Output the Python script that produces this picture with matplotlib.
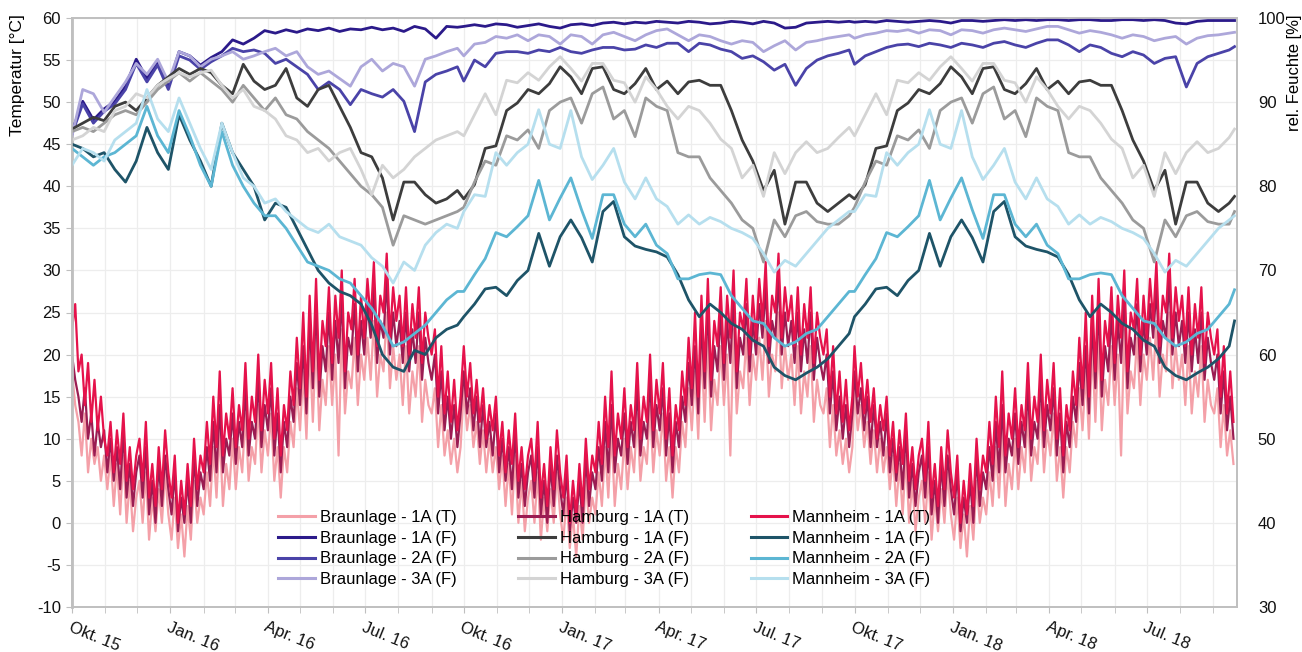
import numpy as np
import pandas as pd
import matplotlib
matplotlib.use("Agg")
import matplotlib.pyplot as plt
from matplotlib.lines import Line2D

# ---------------- data ----------------
# temperature samples every 3 days, starting 1 Oct of each year
t_days = np.concatenate([np.arange(0, 364, 3), 366 + np.arange(0, 364, 3), 731 + np.arange(0, 355, 3)])
# humidity samples every 10 days, starting 1 Oct of each year
h_days = np.concatenate([np.arange(0, 361, 10), 366 + np.arange(0, 361, 10), 731 + np.arange(0, 351, 10), [1086]])

mannheim_t_1516 = [23, 26, 18, 20, 14, 19, 12, 17, 11, 15, 10,
                   8, 12, 6, 11, 7, 13, 5, 9, 4, 8,
                   10, 5, 12, 3, 7, 2, 9, 4, 11, 6,
                   3, 8, 0, 5, 1, 7, 2, 10, 4, 8,
                   6, 12, 7, 15, 9, 18, 8, 13, 10, 16,
                   9, 14, 11, 19, 10, 15, 12, 20, 11, 17,
                   13, 19, 10, 16, 8, 14, 11, 18, 14, 22,
                   16, 25, 15, 27, 18, 29, 17, 24, 21, 28,
                   19, 27, 22, 30, 18, 25, 23, 29, 20, 27,
                   22, 29, 24, 31, 21, 27, 25, 32, 22, 28, 24,
                   27, 21, 28, 20, 26, 22, 28, 19, 25, 22,
                   20, 23, 15, 21, 13, 18, 12, 17, 11, 15]
mannheim_t_1617 = [21, 15, 19, 13, 17, 12, 16, 10, 14, 11, 15,
                   8, 12, 6, 11, 7, 13, 5, 9, 4, 8,
                   10, 5, 12, 3, 7, 2, 9, 4, 11, 6,
                   3, 8, 0, 5, 1, 7, 2, 10, 4, 8,
                   6, 12, 7, 15, 9, 18, 8, 13, 10, 16,
                   9, 14, 11, 19, 10, 15, 12, 20, 11, 17,
                   13, 19, 10, 16, 8, 14, 11, 18, 14, 22,
                   16, 25, 15, 27, 18, 29, 17, 24, 21, 28,
                   19, 27, 22, 30, 18, 25, 23, 29, 20, 27,
                   22, 29, 24, 31, 21, 27, 25, 32, 22, 28, 24,
                   27, 21, 28, 20, 26, 22, 28, 19, 25, 22,
                   20, 23, 15, 21, 13, 18, 12, 17, 11, 15]
mannheim_t_1718 = [21, 15, 19, 13, 17, 12, 16, 10, 14, 11, 15,
                   8, 12, 6, 11, 7, 13, 5, 9, 4, 8,
                   10, 5, 12, 3, 7, 2, 9, 4, 11, 6,
                   3, 8, 0, 5, 1, 7, 2, 10, 4, 8,
                   6, 12, 7, 15, 9, 18, 8, 13, 10, 16,
                   9, 14, 11, 19, 10, 15, 12, 20, 11, 17,
                   13, 19, 10, 16, 8, 14, 11, 18, 14, 22,
                   16, 25, 15, 27, 18, 29, 17, 24, 21, 28,
                   19, 27, 22, 30, 18, 25, 23, 29, 20, 27,
                   22, 29, 24, 31, 21, 27, 25, 32, 22, 28, 24,
                   27, 21, 28, 20, 26, 22, 28, 19, 25, 22,
                   20, 23, 15, 21, 13, 18, 12]

hamburg_t_1516 = [20, 17, 15, 12, 16, 10, 13, 8, 12, 9, 11,
                  6, 10, 5, 9, 4, 11, 3, 7, 2, 6,
                  8, 3, 9, 1, 5, 0, 7, 2, 8, 4,
                  1, 6, -1, 3, 0, 5, 0, 8, 2, 6,
                  4, 9, 5, 12, 6, 14, 6, 10, 8, 13,
                  7, 12, 9, 16, 8, 12, 10, 17, 9, 14,
                  11, 16, 8, 13, 6, 12, 9, 15, 12, 19,
                  14, 21, 13, 24, 16, 26, 15, 21, 18, 25,
                  17, 24, 19, 27, 16, 22, 20, 26, 18, 24,
                  20, 26, 22, 28, 19, 24, 22, 29, 20, 25, 21,
                  24, 19, 25, 18, 23, 19, 25, 17, 22, 19,
                  17, 20, 13, 18, 11, 15, 10, 14, 9, 13]
hamburg_t_1617 = [18, 13, 16, 11, 15, 9, 14, 9, 12, 8, 13,
                  6, 10, 5, 9, 4, 11, 3, 7, 2, 6,
                  8, 3, 9, 1, 5, 0, 7, 2, 8, 4,
                  1, 6, -1, 3, 0, 5, 0, 8, 2, 6,
                  4, 9, 5, 12, 6, 14, 6, 10, 8, 13,
                  7, 12, 9, 16, 8, 12, 10, 17, 9, 14,
                  11, 16, 8, 13, 6, 12, 9, 15, 12, 19,
                  14, 21, 13, 24, 16, 26, 15, 21, 18, 25,
                  17, 24, 19, 27, 16, 22, 20, 26, 18, 24,
                  20, 26, 22, 28, 19, 24, 22, 29, 20, 25, 21,
                  24, 19, 25, 18, 23, 19, 25, 17, 22, 19,
                  17, 20, 13, 18, 11, 15, 10, 14, 9, 13]
hamburg_t_1718 = [18, 13, 16, 11, 15, 9, 14, 9, 12, 8, 13,
                  6, 10, 5, 9, 4, 11, 3, 7, 2, 6,
                  8, 3, 9, 1, 5, 0, 7, 2, 8, 4,
                  1, 6, -1, 3, 0, 5, 0, 8, 2, 6,
                  4, 9, 5, 12, 6, 14, 6, 10, 8, 13,
                  7, 12, 9, 16, 8, 12, 10, 17, 9, 14,
                  11, 16, 8, 13, 6, 12, 9, 15, 12, 19,
                  14, 21, 13, 24, 16, 26, 15, 21, 18, 25,
                  17, 24, 19, 27, 16, 22, 20, 26, 18, 24,
                  20, 26, 22, 28, 19, 24, 22, 29, 20, 25, 21,
                  24, 19, 25, 18, 23, 19, 25, 17, 22, 19,
                  17, 20, 13, 18, 11, 15, 10]

braunlage_t_1516 = [18, 14, 12, 8, 13, 6, 10, 7, 9, 5, 8,
                    4, 8, 2, 7, 1, 8, 0, 5, -1, 3,
                    5, 0, 6, -2, 3, -1, 4, 0, 6, 1,
                    -2, 3, -3, 1, -4, 2, -2, 5, 0, 3,
                    1, 6, 2, 9, 3, 11, 2, 7, 4, 10,
                    4, 9, 6, 13, 5, 9, 7, 14, 6, 11,
                    8, 13, 5, 9, 3, 9, 6, 12, 9, 16,
                    11, 18, 10, 21, 12, 22, 11, 17, 14, 21,
                    14, 20, 8, 23, 13, 18, 16, 22, 14, 20,
                    17, 22, 17, 24, 15, 20, 18, 25, 16, 21, 17,
                    20, 14, 21, 13, 18, 15, 21, 12, 17, 14,
                    13, 16, 9, 14, 8, 11, 7, 10, 6, 9]
braunlage_t_1617 = [16, 11, 14, 9, 12, 7, 11, 6, 10, 6, 9,
                    4, 8, 2, 7, 1, 8, 0, 5, -1, 3,
                    5, 0, 6, -2, 3, -1, 4, 0, 6, 1,
                    -2, 3, -3, 1, -4, 2, -2, 5, 0, 3,
                    1, 6, 2, 9, 3, 11, 2, 7, 4, 10,
                    4, 9, 6, 13, 5, 9, 7, 14, 6, 11,
                    8, 13, 5, 9, 3, 9, 6, 12, 9, 16,
                    11, 18, 10, 21, 12, 22, 11, 17, 14, 21,
                    14, 20, 8, 23, 13, 18, 16, 22, 14, 20,
                    17, 22, 17, 24, 15, 20, 18, 25, 16, 21, 17,
                    20, 14, 21, 13, 18, 15, 21, 12, 17, 14,
                    13, 16, 9, 14, 8, 11, 7, 10, 6, 9]
braunlage_t_1718 = [16, 11, 14, 9, 12, 7, 11, 6, 10, 6, 9,
                    4, 8, 2, 7, 1, 8, 0, 5, -1, 3,
                    5, 0, 6, -2, 3, -1, 4, 0, 6, 1,
                    -2, 3, -3, 1, -4, 2, -2, 5, 0, 3,
                    1, 6, 2, 9, 3, 11, 2, 7, 4, 10,
                    4, 9, 6, 13, 5, 9, 7, 14, 6, 11,
                    8, 13, 5, 9, 3, 9, 6, 12, 9, 16,
                    11, 18, 10, 21, 12, 22, 11, 17, 14, 21,
                    14, 20, 8, 23, 13, 18, 16, 22, 14, 20,
                    17, 22, 17, 24, 15, 20, 18, 25, 16, 21, 17,
                    20, 14, 21, 13, 18, 15, 21, 12, 17, 14,
                    13, 16, 9, 14, 8, 11, 7]

braunlage_1a_f = [86.5, 90.1, 87.9, 89.2, 90.1, 91.9, 95.1, 92.8, 94.9, 91.9, 96.0, 95.5, 94.4, 95.3, 96.0, 97.4, 96.9, 97.6, 98.5,
                  98.2, 98.6, 98.3, 98.7, 98.5, 98.8, 98.4, 98.7, 98.6, 98.9, 98.6, 98.8, 98.4, 99.0, 98.7, 97.6, 99.0, 98.9,
                  99.0, 99.2, 99.0, 99.3, 99.2, 98.9, 99.1, 99.3, 99.0, 98.8, 99.2, 99.3, 99.1, 99.4, 99.5, 99.3, 99.5, 99.4, 99.6,
                  99.5, 99.4, 99.6, 99.5, 99.3, 99.4, 99.6, 99.5, 99.3, 99.6, 99.4, 98.8, 98.9, 99.4, 99.5, 99.6, 99.5, 99.6,
                  99.5, 99.6, 99.5, 99.7, 99.6, 99.5, 99.6, 99.7, 99.6, 99.4, 99.7, 99.7, 99.6, 99.7, 99.8, 99.7, 99.8, 99.7,
                  99.8, 99.8, 99.7, 99.8, 99.8, 99.7, 99.7, 99.8, 99.8, 99.7, 99.8, 99.7, 99.4, 99.3, 99.6, 99.7, 99.7, 99.7, 99.7]
braunlage_2a_f = [86.2, 89.8, 87.5, 88.9, 89.8, 91.5, 94.6, 92.4, 94.4, 91.5, 95.5, 95.0, 93.9, 94.8, 95.5, 96.4, 96.0, 96.2, 95.8,
                  94.6, 95.1, 94.2, 93.3, 91.5, 92.4, 91.5, 89.7, 91.5, 91.0, 90.6, 91.5, 90.1, 86.5, 92.4, 93.3, 93.7, 94.2,
                  92.5, 95.0, 94.2, 95.8, 96.0, 96.0, 95.8, 96.2, 96.0, 96.5, 96.0, 95.8, 96.2, 96.5, 96.5, 96.2, 96.3, 96.8, 96.5,
                  97.0, 97.0, 96.0, 97.0, 96.8, 96.3, 96.0, 95.2, 95.5, 94.8, 93.8, 94.5, 92.0, 94.0, 95.0, 95.5, 95.8, 96.2,
                  94.5, 95.5, 96.0, 96.5, 96.8, 96.9, 96.6, 97.0, 96.8, 96.5, 97.0, 96.8, 96.5, 97.0, 97.2, 96.8, 96.5, 97.0,
                  97.4, 97.4, 96.8, 96.0, 96.8, 96.5, 95.8, 95.4, 96.0, 95.6, 94.6, 95.2, 95.4, 91.8, 94.6, 95.4, 95.8, 96.2, 96.6]
braunlage_3a_f = [86.0, 91.5, 91.0, 88.8, 90.6, 92.4, 94.6, 93.3, 95.1, 92.4, 96.0, 95.5, 94.2, 95.1, 95.5, 96.0, 95.1, 95.5, 96.0,
                  96.4, 95.5, 96.0, 94.2, 93.3, 93.7, 92.8, 91.9, 94.2, 95.1, 93.7, 94.6, 94.2, 91.9, 95.1, 95.5, 96.0, 96.4,
                  95.5, 96.9, 97.1, 97.8, 97.6, 98.0, 97.3, 98.0, 97.8, 96.9, 98.0, 97.8, 96.9, 98.0, 98.3, 97.8, 97.3, 98.0, 98.5,
                  98.7, 98.0, 97.3, 98.0, 97.8, 97.3, 96.9, 97.3, 97.1, 96.0, 96.7, 97.3, 96.2, 97.1, 97.3, 97.6, 97.8, 98.0,
                  97.6, 98.0, 98.2, 98.5, 98.4, 98.6, 98.2, 98.6, 98.5, 98.0, 98.6, 98.5, 98.2, 98.6, 98.8, 98.6, 98.4, 98.7,
                  99.0, 99.0, 98.6, 98.2, 98.5, 98.3, 98.0, 97.6, 98.0, 97.8, 97.3, 97.6, 97.8, 96.9, 97.6, 97.9, 98.0, 98.2, 98.3]

hamburg_1a_f = [86.8, 87.5, 88.2, 87.8, 89.5, 90.0, 89.0, 90.5, 92.0, 93.0, 94.0, 93.3, 94.0, 93.5, 92.0, 91.0, 94.5, 92.5, 91.5,
                92.0, 94.0, 90.5, 89.5, 91.5, 92.0, 89.5, 87.0, 84.0, 83.5, 81.0, 76.0, 80.5, 80.5, 79.0, 78.0, 78.5, 79.5,
                78.5, 80.2, 84.5, 84.8, 89.0, 89.9, 91.5, 91.0, 92.2, 94.2, 93.0, 91.0, 94.0, 94.2, 91.5, 91.0, 92.2, 94.0, 91.5,
                92.5, 91.0, 92.4, 92.6, 92.0, 92.0, 89.0, 85.5, 83.0, 79.5, 81.9, 75.5, 80.5, 80.5, 78.0, 77.0, 78.0, 79.0,
                78.5, 80.2, 84.5, 84.8, 89.0, 89.9, 91.5, 91.0, 92.2, 94.2, 93.0, 91.0, 94.0, 94.2, 91.5, 91.0, 92.2, 94.0,
                91.5, 92.5, 91.0, 92.4, 92.6, 92.0, 92.0, 89.0, 85.5, 83.0, 79.5, 81.9, 75.5, 80.5, 80.5, 78.0, 77.0, 78.0, 78.8]
hamburg_2a_f = [86.5, 87.0, 86.5, 87.5, 88.5, 89.0, 88.5, 90.0, 91.5, 92.5, 93.5, 92.5, 93.5, 92.5, 91.5, 90.0, 92.0, 90.5, 89.0,
                90.5, 88.5, 88.0, 86.5, 85.5, 84.5, 83.0, 81.5, 80.0, 79.0, 77.5, 73.0, 76.5, 76.0, 75.5, 76.0, 76.5, 77.0,
                77.5, 80.5, 83.0, 82.5, 86.0, 85.5, 86.7, 84.5, 89.0, 90.0, 90.5, 87.5, 91.0, 91.8, 88.0, 89.0, 85.9, 90.5, 89.5,
                89.0, 84.0, 83.5, 83.5, 81.0, 79.5, 78.0, 76.0, 75.0, 71.0, 76.0, 74.0, 76.5, 77.0, 75.8, 75.5, 75.5, 76.5,
                77.5, 80.5, 83.0, 82.5, 86.0, 85.5, 86.7, 84.5, 89.0, 90.0, 90.5, 87.5, 91.0, 91.8, 88.0, 89.0, 85.9, 90.5,
                89.5, 89.0, 84.0, 83.5, 83.5, 81.0, 79.5, 78.0, 76.0, 75.0, 71.0, 76.0, 74.0, 76.5, 77.0, 75.8, 75.5, 75.5, 77.0]
hamburg_3a_f = [85.5, 86.0, 87.0, 86.5, 89.0, 89.5, 91.0, 90.5, 92.0, 92.8, 93.5, 93.0, 93.5, 93.8, 92.0, 90.5, 91.5, 89.5, 89.0,
                88.0, 86.0, 85.5, 84.0, 84.5, 83.0, 84.0, 84.5, 82.0, 79.0, 82.5, 81.0, 82.0, 83.5, 84.5, 85.5, 86.0, 86.5,
                86.0, 88.5, 91.0, 88.5, 92.6, 92.3, 93.5, 92.6, 94.2, 95.4, 94.0, 92.5, 94.6, 94.6, 92.6, 92.3, 90.0, 93.0, 91.5,
                89.5, 88.0, 89.5, 89.0, 87.5, 85.6, 84.5, 81.0, 82.5, 78.8, 84.0, 81.5, 84.0, 85.3, 84.0, 84.5, 85.8, 87.0,
                86.0, 88.5, 91.0, 88.5, 92.6, 92.3, 93.5, 92.6, 94.2, 95.4, 94.0, 92.5, 94.6, 94.6, 92.6, 92.3, 90.0, 93.0,
                91.5, 89.5, 88.0, 89.5, 89.0, 87.5, 85.6, 84.5, 81.0, 82.5, 78.8, 84.0, 81.5, 84.0, 85.3, 84.0, 84.5, 85.8, 86.8]

mannheim_1a_f = [85.0, 84.5, 83.5, 84.0, 82.0, 80.5, 83.0, 87.0, 84.0, 82.0, 88.5, 85.5, 83.0, 80.0, 87.5, 84.0, 82.0, 80.0, 76.0,
                 78.0, 77.5, 75.0, 72.5, 70.0, 68.5, 67.5, 67.0, 66.0, 63.5, 60.0, 58.5, 58.0, 60.5, 60.0, 62.0, 63.0, 63.5,
                 64.5, 66.0, 67.8, 68.0, 67.0, 68.8, 70.0, 74.4, 70.5, 74.0, 76.0, 73.9, 71.0, 77.0, 78.2, 74.0, 72.9, 72.5, 72.2,
                 71.6, 69.5, 66.5, 64.5, 66.0, 65.0, 63.7, 63.0, 61.7, 61.0, 58.5, 57.5, 57.0, 57.8, 58.5, 59.5, 61.0, 62.5,
                 64.5, 66.0, 67.8, 68.0, 67.0, 68.8, 70.0, 74.4, 70.5, 74.0, 76.0, 73.9, 71.0, 77.0, 78.2, 74.0, 72.9, 72.5,
                 72.2, 71.6, 69.5, 66.5, 64.5, 66.0, 65.0, 63.7, 63.0, 61.7, 61.0, 58.5, 57.5, 57.0, 57.8, 58.5, 59.5, 61.0, 64.0]
mannheim_2a_f = [84.5, 83.5, 82.5, 83.5, 84.0, 85.0, 86.0, 89.5, 86.0, 84.0, 89.0, 86.0, 82.5, 80.0, 86.5, 82.5, 80.0, 78.0, 76.5,
                 76.5, 75.0, 73.0, 71.0, 70.5, 70.0, 69.0, 68.5, 67.0, 65.5, 63.5, 61.0, 61.5, 62.5, 63.5, 65.0, 66.5, 67.5,
                 67.5, 69.5, 71.4, 74.5, 74.0, 75.2, 76.5, 80.7, 76.0, 78.6, 81.0, 77.2, 73.8, 79.0, 79.0, 75.5, 74.0, 75.5, 73.0,
                 72.0, 69.0, 69.0, 69.5, 69.7, 69.5, 67.0, 65.5, 64.0, 63.7, 62.0, 61.0, 61.5, 62.5, 63.0, 64.5, 66.0, 67.5,
                 67.5, 69.5, 71.4, 74.5, 74.0, 75.2, 76.5, 80.7, 76.0, 78.6, 81.0, 77.2, 73.8, 79.0, 79.0, 75.5, 74.0, 75.5,
                 73.0, 72.0, 69.0, 69.0, 69.5, 69.7, 69.5, 67.0, 65.5, 64.0, 63.7, 62.0, 61.0, 61.5, 62.5, 63.0, 64.5, 66.0, 67.7]
mannheim_3a_f = [82.5, 84.5, 84.0, 83.0, 85.5, 86.5, 87.5, 91.5, 88.0, 86.5, 90.5, 87.5, 84.5, 82.0, 87.5, 84.0, 81.0, 80.0, 78.0,
                 78.5, 77.0, 76.0, 75.0, 74.5, 75.5, 74.0, 73.5, 73.0, 71.5, 70.5, 68.5, 71.0, 70.0, 73.0, 74.5, 75.5, 75.0,
                 77.0, 79.0, 78.8, 84.0, 82.5, 84.0, 85.0, 89.1, 85.0, 84.5, 89.0, 83.5, 80.8, 82.5, 84.5, 80.5, 78.5, 81.0, 78.5,
                 77.6, 75.5, 76.6, 75.5, 76.3, 75.8, 75.0, 74.5, 73.8, 72.0, 69.8, 71.2, 70.5, 72.0, 73.5, 75.0, 76.0, 77.0,
                 77.0, 79.0, 78.8, 84.0, 82.5, 84.0, 85.0, 89.1, 85.0, 84.5, 89.0, 83.5, 80.8, 82.5, 84.5, 80.5, 78.5, 81.0,
                 78.5, 77.6, 75.5, 76.6, 75.5, 76.3, 75.8, 75.0, 74.5, 73.8, 72.0, 69.8, 71.2, 70.5, 72.0, 73.5, 75.0, 76.0, 76.5]

tick_labels = ["Okt. 15", "Jan. 16", "Apr. 16", "Jul. 16", "Okt. 16", "Jan. 17",
               "Apr. 17", "Jul. 17", "Okt. 17", "Jan. 18", "Apr. 18", "Jul. 18"]

labels = ["Braunlage - 1A (T)", "Braunlage - 1A (F)", "Braunlage - 2A (F)", "Braunlage - 3A (F)",
          "Hamburg - 1A (T)", "Hamburg - 1A (F)", "Hamburg - 2A (F)", "Hamburg - 3A (F)",
          "Mannheim - 1A (T)", "Mannheim - 1A (F)", "Mannheim - 2A (F)", "Mannheim - 3A (F)"]
colors = ["#F4A0A8", "#2B1A8A", "#4A43A8", "#ADA7DA",
          "#9B1C52", "#3D3D3D", "#9B9B9B", "#D4D4D4",
          "#E5124B", "#1E5468", "#5CB6D3", "#B6DFEE"]

# ---------------- figure ----------------
plt.rcParams['font.family'] = ['Liberation Sans', 'DejaVu Sans']
W, H = 1302, 652
fig = plt.figure(figsize=(W / 100, H / 100), dpi=100)
ax = fig.add_axes([72 / W, 45 / H, 1165 / W, 589 / H])
ax2 = ax.twinx()

base = pd.Timestamp("2015-10-01")
mannheim_t = mannheim_t_1516 + mannheim_t_1617 + mannheim_t_1718
hamburg_t = hamburg_t_1516 + hamburg_t_1617 + hamburg_t_1718
braunlage_t = braunlage_t_1516 + braunlage_t_1617 + braunlage_t_1718

temp_series = {0: braunlage_t, 4: hamburg_t, 8: mannheim_t}
hum_series = {1: braunlage_1a_f, 2: braunlage_2a_f, 3: braunlage_3a_f,
              5: hamburg_1a_f, 6: hamburg_2a_f, 7: hamburg_3a_f,
              9: mannheim_1a_f, 10: mannheim_2a_f, 11: mannheim_3a_f}

for k in (0, 4, 8):
    ax.plot(t_days, temp_series[k], color=colors[k], lw=1.6)
for k in (1, 2, 3, 5, 6, 7, 9, 10, 11):
    ax2.plot(h_days, hum_series[k], color=colors[k], lw=2.0)

xmax = 1088.3
ax.set_xlim(0, xmax)
ax.set_ylim(-10, 60)
ax2.set_ylim(30, 100)

months = pd.date_range("2015-10-01", "2018-09-01", freq="MS")
month_days = [(m - base).days for m in months]
major_days = [(m - base).days for m in months if m.month in (1, 4, 7, 10)]
ax.set_xticks(month_days, minor=True)
ax.set_xticks(major_days)
ax.set_xticklabels(tick_labels, rotation=-22, ha='left', va='top',
                   rotation_mode='anchor', fontsize=12)
ax.set_yticks(np.arange(-10, 61, 5))
ax.set_yticklabels([str(v) for v in range(-10, 61, 5)], fontsize=12)
ax2.set_yticks(np.arange(30, 101, 10))
ax2.set_yticklabels([str(v) for v in range(30, 101, 10)], fontsize=12)

grid_c = "#EDEDED"
ax.grid(True, which='both', axis='x', color=grid_c, lw=0.9)
ax.grid(True, which='major', axis='y', color=grid_c, lw=0.9)
ax.set_axisbelow(True)

spine_c = "#BFBFBF"
for a in (ax, ax2):
    for s in a.spines.values():
        s.set_color(spine_c)
        s.set_linewidth(1.2)
ax.spines['left'].set_linewidth(2.0)
ax.tick_params(axis='y', which='major', length=4, color=spine_c, pad=4, labelcolor='#111111')
ax.tick_params(axis='x', which='both', length=4, color=spine_c, pad=5, labelcolor='#111111')
ax2.tick_params(axis='y', length=0, pad=15, labelcolor='#111111')

fig.text(18 / W, 1 - 75 / H, "Temperatur [°C]", rotation=90, ha='center', va='center', fontsize=12.5)
fig.text(1294 / W, 1 - 73 / H, "rel. Feuchte [%]", rotation=90, ha='center', va='center', fontsize=12)

handles = [Line2D([], [], color=c, lw=2.2) for c in colors]
leg = ax2.legend(handles, labels, ncol=3, loc='upper left', bbox_to_anchor=(278 / W, 1 - 510 / H),
                 bbox_transform=fig.transFigure, frameon=False, fontsize=12, handlelength=2.2,
                 handletextpad=0.3, columnspacing=3.7, labelspacing=0.34, borderpad=0, borderaxespad=0)

fig.savefig("out.png", dpi=100)
